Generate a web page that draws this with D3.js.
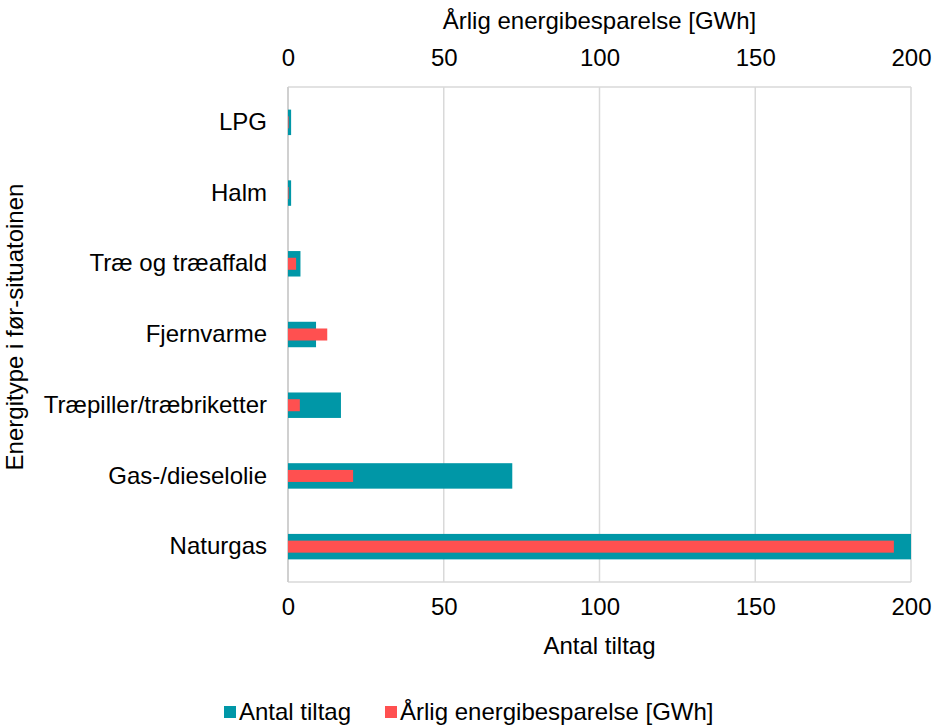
<!DOCTYPE html>
<html>
<head>
<meta charset="utf-8">
<script src="https://cdn.jsdelivr.net/npm/d3@7"></script>
<style>
  body { margin: 0; background: #fff; }
  text { font-family: "Liberation Sans", Arial, sans-serif; fill: #000; }
</style>
</head>
<body>
<div id="vizcont"></div>
<script>
// data
var categories = ["LPG", "Halm", "Træ og træaffald", "Fjernvarme", "Træpiller/træbriketter", "Gas-/dieselolie", "Naturgas"];
var antalTiltag = [1, 1, 4, 9, 17, 72, 200];
var energiGWh = [0.2, 0.2, 2.6, 12.6, 3.8, 20.9, 194.5];
var xTicks = [0, 50, 100, 150, 200];

var W = 934, H = 725;
var margin = {top: 87, right: 23, bottom: 143, left: 288};
var width = W - margin.left - margin.right;
var height = H - margin.top - margin.bottom;
var fs = "24px";

var svg = d3.select("#vizcont")
    .append("svg")
    .attr("width", W)
    .attr("height", H);

var g = svg.append("g")
    .attr("transform", "translate(" + margin.left + "," + margin.top + ")");

// scales - bottom axis for count, top axis for GWh (both 0-200)
var x = d3.scaleLinear().domain([0, 200]).range([0, width]);
var x2 = d3.scaleLinear().domain([0, 200]).range([0, width]);
var y = d3.scaleBand().domain(categories).range([0, height]).paddingInner(0).paddingOuter(0);

// grid + frame
g.selectAll("line.grid")
    .data(xTicks)
    .enter().append("line")
    .attr("class", "grid")
    .attr("x1", function(d) { return x(d); })
    .attr("x2", function(d) { return x(d); })
    .attr("y1", 0)
    .attr("y2", height)
    .attr("stroke", "#d9d9d9")
    .attr("stroke-width", 1.5);
g.append("line").attr("x1", 0).attr("x2", width).attr("y1", 0).attr("y2", 0)
    .attr("stroke", "#d9d9d9").attr("stroke-width", 1.5);
g.append("line").attr("x1", 0).attr("x2", width).attr("y1", height).attr("y2", height)
    .attr("stroke", "#d9d9d9").attr("stroke-width", 1.5);

// left axis line
g.append("line").attr("x1", 0).attr("x2", 0).attr("y1", 0).attr("y2", height)
    .attr("stroke", "#d0d0d0").attr("stroke-width", 2);

var tealH = y.bandwidth() * 0.36;
var redH = y.bandwidth() * 0.17;

// Antal tiltag bars
g.selectAll("rect.antal")
    .data(antalTiltag)
    .enter().append("rect")
    .attr("class", "antal")
    .attr("x", x(0))
    .attr("y", function(d, i) { return y(categories[i]) + y.bandwidth() / 2 - tealH / 2; })
    .attr("width", function(d) { return x(d) - x(0); })
    .attr("height", tealH)
    .style("fill", "#0097a7");

// energy bars
g.selectAll("rect.gwh")
    .data(energiGWh)
    .enter().append("rect")
    .attr("class", "gwh")
    .attr("x", x2(0))
    .attr("y", function(d, i) { return y(categories[i]) + y.bandwidth() / 2 - redH / 2; })
    .attr("width", function(d) { return x2(d) - x2(0); })
    .attr("height", redH)
    .style("fill", "#ff5050");

// axes
var axBottom = g.append("g")
    .attr("transform", "translate(0," + height + ")")
    .call(d3.axisBottom(x).tickValues(xTicks).tickSize(0).tickPadding(16));
var axTop = g.append("g")
    .call(d3.axisTop(x2).tickValues(xTicks).tickSize(0).tickPadding(21));
var axLeft = g.append("g")
    .call(d3.axisLeft(y).tickSize(0).tickPadding(21));
[axBottom, axTop, axLeft].forEach(function(a) {
    a.select(".domain").remove();
    a.selectAll("text")
        .style("font-size", fs)
        .style("font-family", "'Liberation Sans', Arial, sans-serif")
        .style("fill", "#000");
});

// titles
svg.append("text")
    .attr("x", margin.left + width / 2)
    .attr("y", 654)
    .attr("text-anchor", "middle")
    .style("font-size", fs)
    .text("Antal tiltag");
svg.append("text")
    .attr("x", margin.left + width / 2)
    .attr("y", 29)
    .attr("text-anchor", "middle")
    .style("font-size", fs)
    .text("Årlig energibesparelse [GWh]");
svg.append("text")
    .attr("transform", "translate(23," + 327 + ") rotate(-90)")
    .attr("text-anchor", "middle")
    .style("font-size", fs)
    .text("Energitype i før-situatoinen");

// legend
var legend = [
    {label: "Antal tiltag", color: "#0097a7", x: 224},
    {label: "Årlig energibesparelse [GWh]", color: "#ff5050", x: 385}
];
var lg = svg.selectAll("g.legend")
    .data(legend)
    .enter().append("g")
    .attr("class", "legend")
    .attr("transform", function(d) { return "translate(" + d.x + ",712)"; });
lg.append("rect")
    .attr("x", 0).attr("y", -6)
    .attr("width", 12).attr("height", 12)
    .style("fill", function(d) { return d.color; });
lg.append("text")
    .attr("x", 15).attr("y", 8)
    .style("font-size", fs)
    .text(function(d) { return d.label; });
</script>
</body>
</html>
